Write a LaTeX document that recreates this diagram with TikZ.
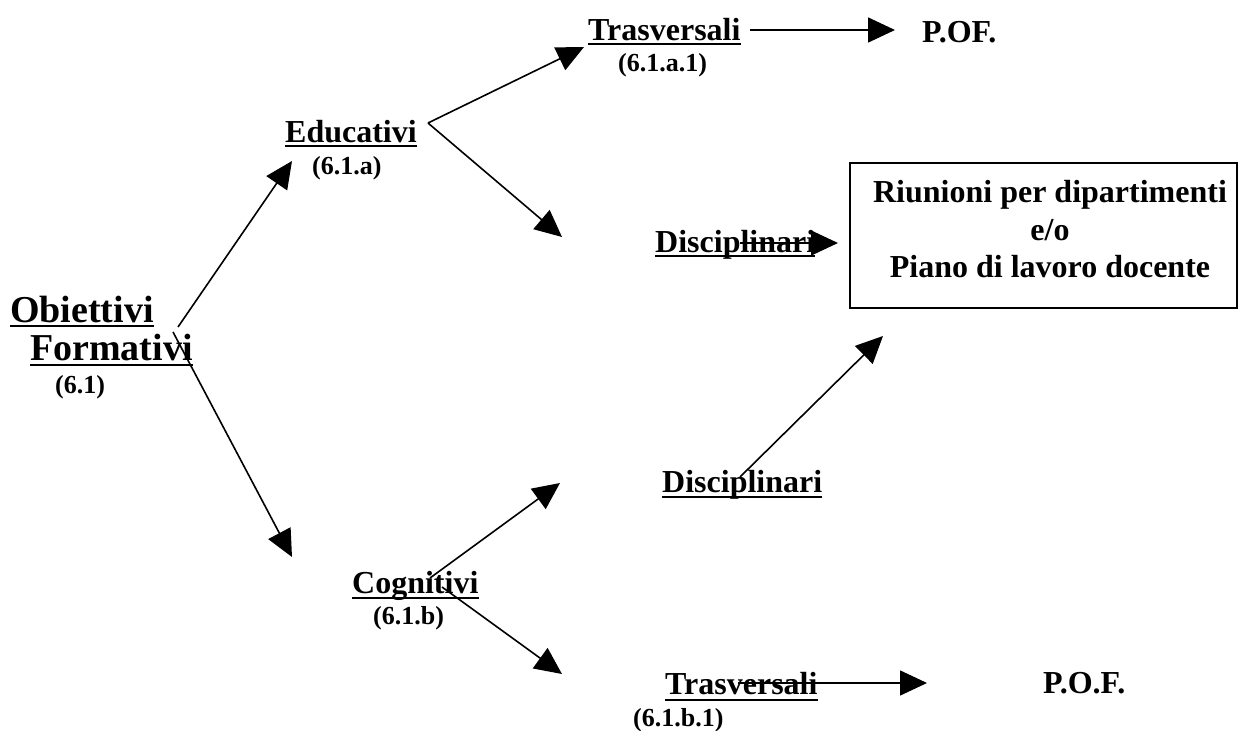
\documentclass[tikz,border=0pt]{standalone}
\usepackage{fontspec}
\setmainfont{Liberation Serif}
\usetikzlibrary{arrows.meta}
\tikzset{
  lbl/.style={inner sep=0pt, anchor=base west, font=\fontsize{32}{37}\selectfont\bfseries},
  biglbl/.style={inner sep=0pt, anchor=base west, font=\fontsize{38}{44}\selectfont\bfseries},
  smalllbl/.style={inner sep=0pt, anchor=base west, font=\fontsize{26}{30}\selectfont\bfseries},
  boxtxt/.style={inner sep=0pt, anchor=base, font=\fontsize{32}{37}\selectfont\bfseries},
  ul/.style={line width=2pt},
  conn/.style={line width=1.6pt, -{Triangle[length=27pt,width=25pt]}},
  plain/.style={line width=1.6pt}
}
\begin{document}
\begin{tikzpicture}[x=1pt,y=-1pt]
\useasboundingbox (0,0) rectangle (1240,731);
% left root
\node[biglbl] (ob) at (10,322) {Obiettivi};
\node[biglbl] (fo) at (30,360) {Formativi};
\node[smalllbl] (n61) at (55,393) {(6.1)};
\draw[ul] ([yshift=-4pt]ob.base west) -- ([yshift=-4pt]ob.base east);
\draw[ul] ([yshift=-5pt]fo.base west) -- ([yshift=-5pt]fo.base east);
% educativi
\node[lbl] (edu) at (285,142) {Educativi};
\node[smalllbl] (n61a) at (312,174) {(6.1.a)};
\draw[ul] ([yshift=-4pt]edu.base west) -- ([yshift=-4pt]edu.base east);
% cognitivi
\node[lbl] (cog) at (352,593) {Cognitivi};
\node[smalllbl] (n61b) at (373,624) {(6.1.b)};
\draw[ul] ([yshift=-5pt]cog.base west) -- ([yshift=-5pt]cog.base east);
% top trasversali
\node[lbl] (tr1) at (588,40) {Trasversali};
\node[smalllbl] (n61a1) at (618,71) {(6.1.a.1)};
\draw[ul] ([yshift=-4pt]tr1.base west) -- ([yshift=-4pt]tr1.base east);
\node[lbl] (pof1) at (922,42) {P.OF.};
% top disciplinari
\node[lbl] (dis1) at (655,252) {Disciplinari};
\draw[ul] ([yshift=-4pt]dis1.base west) -- ([yshift=-4pt]dis1.base east);
% box
\node[draw, line width=2pt, minimum width=387pt, minimum height=145pt, inner sep=0pt] (box) at (1043.5,235.5) {};
\node[boxtxt] (r1) at (1050,202) {Riunioni per dipartimenti};
\node[boxtxt] (r2) at (1050,240) {e/o};
\node[boxtxt] (r3) at (1050,277) {Piano di lavoro docente};
% bottom disciplinari
\node[lbl] (dis2) at (662,492) {Disciplinari};
\draw[ul] ([yshift=-5pt]dis2.base west) -- ([yshift=-5pt]dis2.base east);
% bottom trasversali
\node[lbl] (tr2) at (665,694) {Trasversali};
\node[smalllbl] (n61b1) at (633,726) {(6.1.b.1)};
\draw[ul] ([yshift=-6pt]tr2.base west) -- ([yshift=-6pt]tr2.base east);
\node[lbl] (pof2) at (1043,693) {P.O.F.};
% connector points
\coordinate (obA) at (178,327);
\coordinate (obB) at (173,332);
\coordinate (eduTip) at (292,161);
\coordinate (cogTip) at (292,557);
\coordinate (eduV) at (428,123);
\coordinate (tr1Tip) at (584,47);
\coordinate (dis1Tip) at (562,237);
\coordinate (tr1S) at (750,30);
\coordinate (pof1Tip) at (895,30);
\coordinate (dis1S) at (740,243);
\coordinate (boxTip) at (838,243);
\coordinate (dis2S) at (740,477);
\coordinate (boxTip2) at (883,336);
\coordinate (cogA) at (430,578);
\coordinate (cogB) at (442,587);
\coordinate (dis2Tip) at (560,483);
\coordinate (tr2Tip) at (562,674);
\coordinate (tr2S) at (738,683);
\coordinate (pof2Tip) at (927,683);
% connectors
\draw[conn] (obA) -- (eduTip);
\draw[conn] (obB) -- (cogTip);
\draw[conn] (eduV) -- (tr1Tip);
\draw[conn] (eduV) -- (dis1Tip);
\draw[conn] (tr1S) -- (pof1Tip);
\draw[conn] (dis1S) -- (boxTip);
\draw[conn] (dis2S) -- (boxTip2);
\draw[conn] (cogA) -- (dis2Tip);
\draw[conn] (cogB) -- (tr2Tip);
\draw[conn] (tr2S) -- (pof2Tip);
\end{tikzpicture}
\end{document}
